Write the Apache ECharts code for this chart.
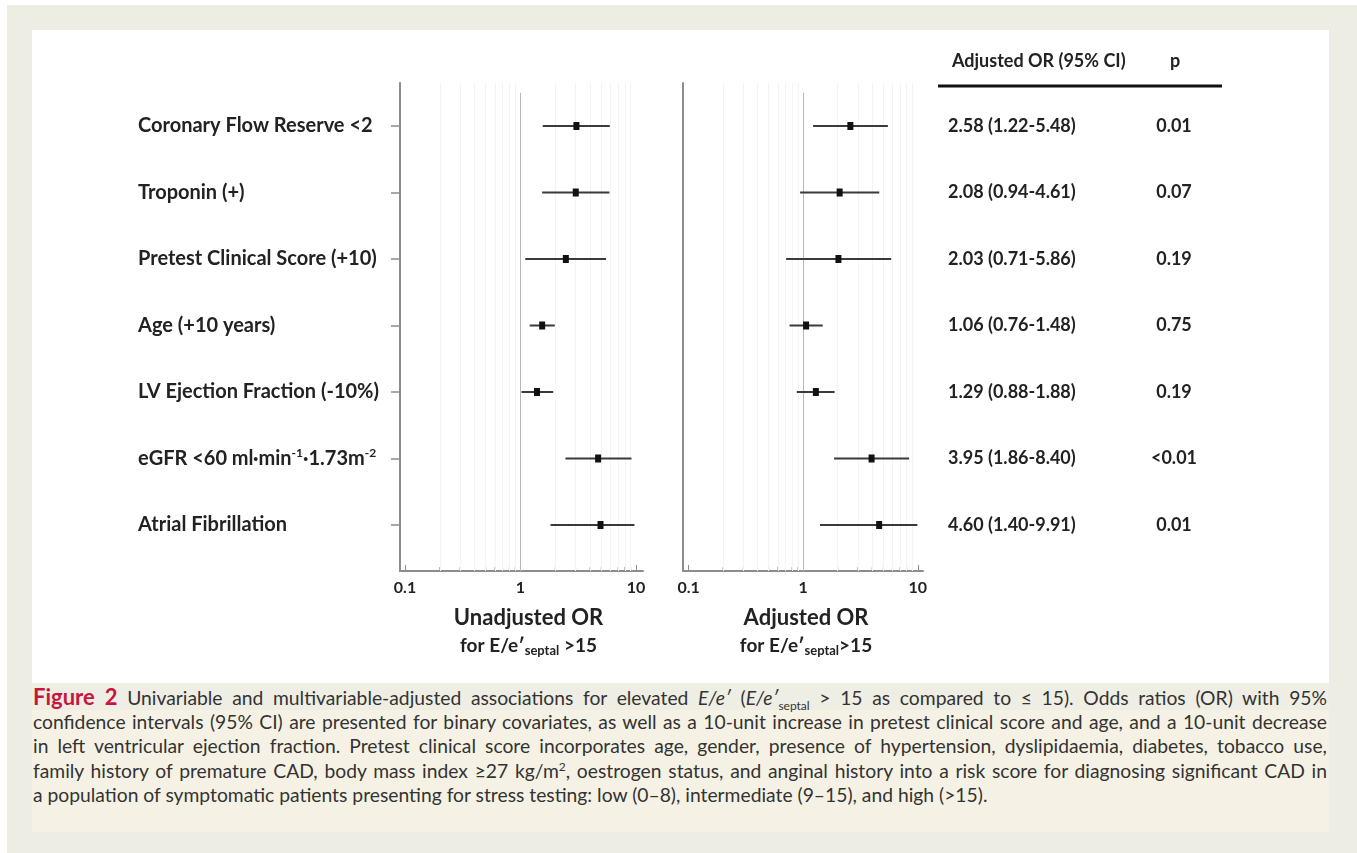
<!DOCTYPE html>
<html>
<head>
<meta charset="utf-8">
<script src="https://cdn.jsdelivr.net/npm/echarts@6/dist/echarts.min.js"></script>
<style>
  html, body { margin:0; padding:0; width:1357px; height:853px; background:#fff; overflow:hidden; }
  #outer { position:absolute; left:7px; top:5px; right:0; bottom:0; background:#eeede3; }
  #chart { position:absolute; left:32px; top:30px; width:1297px; height:653px; background:#fff; }
  #caption { position:absolute; left:32px; top:683px; width:1297px; height:149px; background:#f5f2e5;
             font-family: Lato, "Open Sans", sans-serif; font-size:19.3px; color:#333; }
  #caption .ln { height:24.5px; line-height:24.5px; text-align:justify; text-align-last:justify; padding:0 2px 0 1px; white-space:nowrap; }
  #caption .ln.first { background:#efeee4; padding-top:2px; }
  #caption .ln.last { text-align-last:left; }
  #caption .fig { color:#c8163c; font-weight:bold; font-size:22px; }
  #caption sub, #caption sup { font-size:12px; line-height:0; }
</style>
</head>
<body>
<div id="outer"></div>
<div id="chart"></div>
<div id="caption">
  <div class="ln first"><span class="fig">Figure 2</span> Univariable and multivariable-adjusted associations for elevated <i>E/e′</i> (<i>E/e′</i><sub>septal</sub> &gt; 15 as compared to ≤ 15). Odds ratios (OR) with 95%</div>
  <div class="ln">confidence intervals (95% CI) are presented for binary covariates, as well as a 10-unit increase in pretest clinical score and age, and a 10-unit decrease</div>
  <div class="ln">in left ventricular ejection fraction. Pretest clinical score incorporates age, gender, presence of hypertension, dyslipidaemia, diabetes, tobacco use,</div>
  <div class="ln">family history of premature CAD, body mass index ≥27 kg/m<sup>2</sup>, oestrogen status, and anginal history into a risk score for diagnosing significant CAD in</div>
  <div class="ln last">a population of symptomatic patients presenting for stress testing: low (0–8), intermediate (9–15), and high (&gt;15).</div>
</div>
<script>
// ---------------- data ----------------
const categories = [
  'Coronary Flow Reserve <2',
  'Troponin (+)',
  'Pretest Clinical Score (+10)',
  'Age (+10 years)',
  'LV Ejection Fraction (-10%)',
  'eGFR <60 ml·min{sup|-1}·1.73m{sup|-2}',
  'Atrial Fibrillation'
];
const unadjEst = [3.05, 3.01, 2.47, 1.54, 1.39, 4.70, 4.93];
const unadjLo  = [1.56, 1.54, 1.10, 1.20, 1.02, 2.45, 1.82];
const unadjHi  = [5.93, 5.89, 5.51, 1.98, 1.92, 9.14, 9.70];
// Adjusted OR (from table)
const adjEst = [2.58, 2.08, 2.03, 1.06, 1.29, 3.95, 4.60];
const adjLo  = [1.22, 0.94, 0.71, 0.76, 0.88, 1.86, 1.40];
const adjHi  = [5.48, 4.61, 5.86, 1.48, 1.88, 8.40, 9.91];
const pValues = ['0.01', '0.07', '0.19', '0.75', '0.19', '<0.01', '0.01'];
const majorTicks = [0.1, 1, 10];
const minorTicks = [0.2, 0.3, 0.4, 0.5, 0.6, 0.7, 0.8, 0.9, 2, 3, 4, 5, 6, 7, 8, 9];
const tableHeader = ['Adjusted OR (95% CI)', 'p'];

// ---------------- layout ----------------
const Y_MIN = -0.647, Y_MAX = 6.692;
const rowIdx = categories.map((_, i) => i);
const FONT = 'Lato, "Open Sans", sans-serif';
const DARK = '#222';
const AXIS = '#8c8c8c';

const chart = echarts.init(document.getElementById('chart'), null, { renderer: 'canvas' });

function ciData(lo, est, hi) {
  return rowIdx.map(i => [lo[i], est[i], hi[i], i]);
}
const orText = rowIdx.map(i => adjEst[i].toFixed(2) + ' (' + adjLo[i].toFixed(2) + '-' + adjHi[i].toFixed(2) + ')');

function renderCI(params, api) {
  const y = api.value(3);
  const lo = api.coord([api.value(0), y]);
  const est = api.coord([api.value(1), y]);
  const hi = api.coord([api.value(2), y]);
  return {
    type: 'group',
    children: [
      { type: 'line', shape: { x1: lo[0], y1: lo[1], x2: hi[0], y2: hi[1] },
        style: { stroke: '#3a3a3a', lineWidth: 2 } },
      { type: 'rect', shape: { x: est[0] - 3, y: est[1] - 4, width: 6, height: 8 },
        style: { fill: '#111' } }
    ]
  };
}

function xAxisCfg(gridIndex, min, max, name, namePadLeft) {
  return {
    type: 'log', logBase: 10, gridIndex, min, max,
    axisLine: { show: true, onZero: false, lineStyle: { color: AXIS, width: 2 } },
    axisTick: { show: true, inside: true, length: 6, customValues: majorTicks, lineStyle: { color: AXIS, width: 1 } },
    axisLabel: { show: true, customValues: majorTicks, margin: 9,
      formatter: v => String(v), fontFamily: FONT, fontWeight: 'bold', fontSize: 16, color: DARK },
    splitLine: { show: false },
    minorTick: { show: false },
    name: name, nameLocation: 'middle', nameGap: 33,
    nameTextStyle: {
      fontFamily: FONT, color: DARK, align: 'center', padding: [0, 0, 0, namePadLeft],
      rich: {
        t: { fontFamily: FONT, fontSize: 22, fontWeight: 'bold', color: DARK, lineHeight: 28 },
        s: { fontFamily: FONT, fontSize: 19, fontWeight: 'bold', color: DARK, lineHeight: 28 },
        sub: { fontFamily: FONT, fontSize: 13, fontWeight: 'bold', color: DARK, lineHeight: 28, padding: [9, 0, 0, 0] }
      }
    }
  };
}

function yBase(gridIndex) {
  return { type: 'value', gridIndex, min: Y_MIN, max: Y_MAX, inverse: true, splitLine: { show: false } };
}

function tickSeries(xi, yi) {
  return {
    type: 'scatter', xAxisIndex: xi, yAxisIndex: yi, silent: true, z: 3,
    data: minorTicks.map(v => [v, Y_MAX]),
    symbol: 'rect', symbolSize: [1, 4], symbolOffset: [0, -2],
    itemStyle: { color: AXIS },
    markLine: {
      silent: true, symbol: 'none', label: { show: false }, animation: false,
      lineStyle: { color: '#f4f4f4', type: 'solid', width: 1 },
      data: minorTicks.map(v => ({ xAxis: v }))
    }
  };
}

function refLine(xi, yi) {
  return {
    type: 'scatter', xAxisIndex: xi, yAxisIndex: yi, silent: true, data: [], z: 2,
    markLine: {
      silent: true, symbol: 'none', label: { show: false }, animation: false,
      lineStyle: { color: '#b8b8b8', type: 'solid', width: 1 },
      data: [[{ coord: [1, -0.5] }, { coord: [1, Y_MAX] }]]
    }
  };
}

const option = {
  animation: false,
  backgroundColor: '#fff',
  textStyle: { fontFamily: FONT },
  grid: [
    { left: 368, top: 53, width: 243, height: 488 },
    { left: 651, top: 53, width: 240, height: 488 }
  ],
  xAxis: [
    xAxisCfg(0, 0.0905, 11.5, '{t|Unadjusted OR}\n{s|for E/e′}{sub|septal}{s| >15}', 14),
    xAxisCfg(1, 0.0894, 11.1, '{t|Adjusted OR}\n{s|for E/e′}{sub|septal}{s|>15}', 6)
  ],
  yAxis: [
    Object.assign(yBase(0), {
      position: 'left',
      axisLine: { show: true, onZero: false, lineStyle: { color: AXIS, width: 2 } },
      axisTick: { show: true, length: 9, customValues: rowIdx, lineStyle: { color: AXIS, width: 1.5 } },
      axisLabel: {
        show: true, customValues: rowIdx, margin: 262, align: 'left',
        formatter: v => categories[Math.round(v)],
        fontFamily: FONT, fontWeight: 'bold', fontSize: 20, color: DARK,
        rich: { sup: { fontFamily: FONT, fontWeight: 'bold', fontSize: 12, color: DARK, padding: [0, 0, 10, 0] } }
      }
    }),
    Object.assign(yBase(1), {
      position: 'left',
      axisLine: { show: true, onZero: false, lineStyle: { color: AXIS, width: 2 } },
      axisTick: { show: false },
      axisLabel: { show: false }
    }),
    Object.assign(yBase(1), {
      position: 'right',
      axisLine: { show: false }, axisTick: { show: false },
      axisLabel: { show: true, customValues: rowIdx, margin: 25, align: 'left',
        formatter: v => orText[Math.round(v)],
        fontFamily: FONT, fontWeight: 'bold', fontSize: 18, color: DARK }
    }),
    Object.assign(yBase(1), {
      position: 'right',
      axisLine: { show: false }, axisTick: { show: false },
      axisLabel: { show: true, customValues: rowIdx, margin: 251, align: 'center',
        formatter: v => pValues[Math.round(v)],
        fontFamily: FONT, fontWeight: 'bold', fontSize: 18, color: DARK }
    })
  ],
  graphic: [
    { type: 'text', left: 920, top: 22, style: { text: tableHeader[0], font: 'bold 18px ' + FONT, fill: DARK } },
    { type: 'text', left: 1138, top: 22, style: { text: tableHeader[1], font: 'bold 18px ' + FONT, fill: DARK } },
    { type: 'line', shape: { x1: 906, y1: 56, x2: 1190, y2: 56 }, style: { stroke: '#111', lineWidth: 3 } }
  ],
  series: [
    tickSeries(0, 0), refLine(0, 0),
    tickSeries(1, 1), refLine(1, 1),
    { type: 'custom', name: 'Unadjusted OR', xAxisIndex: 0, yAxisIndex: 0, z: 5,
      renderItem: renderCI, encode: { x: [0, 1, 2], y: 3 }, data: ciData(unadjLo, unadjEst, unadjHi) },
    { type: 'custom', name: 'Adjusted OR', xAxisIndex: 1, yAxisIndex: 1, z: 5,
      renderItem: renderCI, encode: { x: [0, 1, 2], y: 3 }, data: ciData(adjLo, adjEst, adjHi) }
  ]
};
chart.setOption(option);
</script>
</body>
</html>
